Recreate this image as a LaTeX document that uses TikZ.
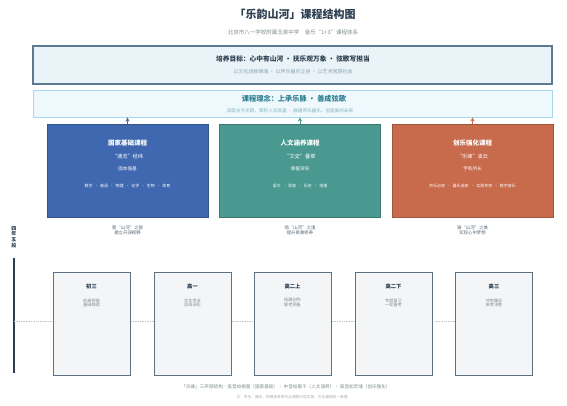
\documentclass[tikz,border=0pt]{standalone}
\usepackage{fontspec}
\setmainfont{Noto Sans CJK SC}
\usepackage{xcolor}
\usetikzlibrary{arrows, positioning}
\definecolor{ink}{HTML}{2C3E50}
\definecolor{greytext}{HTML}{7F8C8D}
\definecolor{goalfill}{HTML}{EAF3F7}
\definecolor{goalline}{HTML}{5B7A94}
\definecolor{ideafill}{HTML}{EEF8FD}
\definecolor{idealine}{HTML}{A6D8EE}
\definecolor{ideaink}{HTML}{2E7F91}
\definecolor{baseblue}{HTML}{3F68B0}
\definecolor{humteal}{HTML}{4A9990}
\definecolor{artred}{HTML}{C86A4C}
\definecolor{stagefill}{HTML}{F4F5F6}
\definecolor{stageline}{HTML}{5D7185}
\tikzset{
  fs/.style={font=\fontsize{#1}{#1}\selectfont},
  fb/.style={font=\fontsize{#1}{#1}\selectfont\bfseries},
  goalbox/.style={draw=goalline, line width=1.5pt, fill=goalfill, inner sep=0pt, minimum width=519pt, minimum height=38pt},
  ideabox/.style={draw=idealine, line width=0.8pt, fill=ideafill, inner sep=0pt, minimum width=519pt, minimum height=27pt},
  coursebox/.style={fill=#1, draw=#1!80!black, line width=0.3pt, inner sep=0pt, minimum width=161pt, minimum height=93pt},
  stagebox/.style={draw=stageline, line width=0.9pt, fill=stagefill, inner sep=0pt, minimum width=77pt, minimum height=103pt},
  wtext/.style={text=white, align=center, inner sep=0pt},
  gtext/.style={text=ink!80, align=center, inner sep=0pt, fs=4.4},
  uparrow/.style={->, >=stealth, line width=0.9pt, draw=#1}
}
\begin{document}
\begin{tikzpicture}[x=1pt, y=-1pt]
\useasboundingbox[fill=white] (0,0) rectangle (567,405);
\node[text=ink, fb=11] (title) at (295,14) {「乐韵山河」课程结构图};
\node[text=greytext, fs=5.5] (subtitle) at (293,32) {北京市八一学校附属玉泉中学\quad 音乐“1+3”课程体系};

\node[goalbox] (goal) at (292.5,65) {};
\node[text=ink, fb=6.7] (goaltitle) at (293,59) {培养目标：心中有山河 · 抚乐观万象 · 弦歌写担当};
\node[text=goalline!70, fs=5] (goalsub) at (293,71.5) {以文化润脉铸魂 · 以声乐器乐立身 · 以艺术回馈社会};

\node[ideabox] (idea) at (292.5,103.5) {};
\node[text=ideaink, fb=7.2] (ideatitle) at (294,99) {课程理念：上承乐脉 · 善成弦歌};
\node[text=ideaink!60, fs=4.6] (ideasub) at (290,110.5) {汲取古今乐韵，厚积人文底蕴 · 融通声乐器乐，创造美的未来};

\node[coursebox=baseblue] (base) at (127.5,170.5) {};
\node[wtext, fb=6.5] (basetitle) at (127.5,143) {国家基础课程};
\node[wtext, fs=5.2] (basemotto) at (127.5,157) {“通览”经纬};
\node[wtext, fs=4.6] (baseaim) at (127.5,169) {固本强基};
\node[wtext, fs=4] (baselist) at (127.5,186) {数学\ \ · \ 英语\ \ · \ 物理\ \ · \ 化学\ \ · \ 生物\ \ · \ 体育};
\node[gtext] (basenote) at (127.5,230.5) {察“山河”之貌\\建立开阔视野};

\node[coursebox=humteal] (hum) at (300,170.5) {};
\node[wtext, fb=6.5] (humtitle) at (300,143) {人文涵养课程};
\node[wtext, fs=5.2] (hummotto) at (300,157) {“文史”叠翠};
\node[wtext, fs=4.6] (humaim) at (300,169) {厚植深培};
\node[wtext, fs=4] (humlist) at (300,186) {语文\ \ · \ 思政\ \ · \ 历史\ \ · \ 地理};
\node[gtext] (humnote) at (300,230.5) {悟“山河”之魂\\提升审美修养};

\node[coursebox=artred] (art) at (472.5,170.5) {};
\node[wtext, fb=6.5] (arttitle) at (472.5,143) {创乐强化课程};
\node[wtext, fs=5.2] (artmotto) at (472.5,157) {“乐峰”凌云};
\node[wtext, fs=4.6] (artaim) at (472.5,169) {学有所长};
\node[wtext, fs=4] (artlist) at (472.5,186) {声乐必修\ \ · \ 器乐选修\ \ · \ 实践专修\ \ · \ 数字音乐};
\node[gtext] (artnote) at (472.5,230.5) {谱“山河”之美\\实现心中梦想};

\draw[uparrow=baseblue] (base.north) -- (base.north |- idea.south);
\draw[uparrow=humteal] (hum.north) -- (hum.north |- idea.south);
\draw[uparrow=artred] (art.north) -- (art.north |- idea.south);

\node[text=ink, fb=5, align=center, inner sep=0pt] (span) at (14,237) {四\\[0.6pt]年\\[0.6pt]五\\[0.6pt]段};
\coordinate (axtop) at (14,258);
\coordinate (axbot) at (14,373);
\draw[ink, line width=1.6pt] (axtop) -- (axbot);
\coordinate (dotend) at (457,321);
\draw[greytext!50, line width=0.7pt, densely dotted] (axtop |- dotend) -- (dotend);

\foreach \nm/\cx/\lab/\la/\lb in {s1/91.5/初三/初高衔接/基础梳理, s2/192.5/高一/文化专业/双线深化, s3/292.5/高二上/拓展创作/联考预备, s4/393.5/高二下/专题复习/一轮备考, s5/494/高三/冲刺集训/高考决胜}{
  \node[stagebox] (\nm) at (\cx,323.5) {};
  \node[text=ink, fb=5.3, inner sep=0pt] (\nm lab) at (\cx,286) {\lab};
  \node[text=greytext, fs=4.2, align=center, inner sep=0pt] (\nm sub) at (\cx,302.5) {\la\\\lb};
}

\node[text=greytext, fs=4.6] (legend) at (286,387) {「乐峰」三声部结构：低音如根基（国家基础）· 中音如躯干（人文涵养）· 高音如灵魂（创乐强化）};
\node[text=greytext!70, fs=3.7] (remark) at (292,397) {注：声乐、器乐、视唱练耳等专业课程分层实施，文化课程统一管理};
\end{tikzpicture}
\end{document}
